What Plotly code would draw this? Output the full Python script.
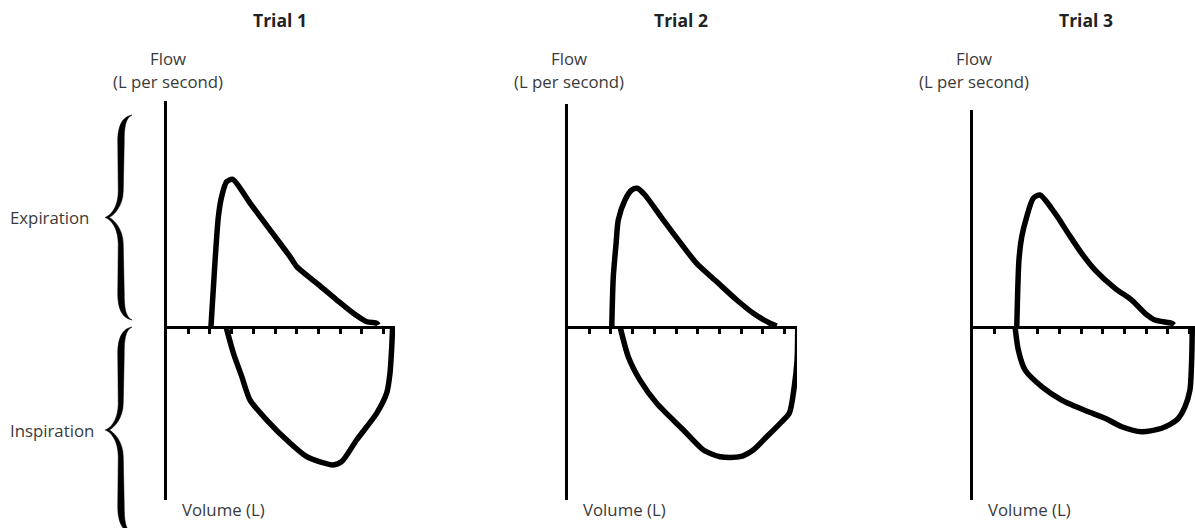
import plotly.graph_objects as go

# figure size in px
W, H = 1195, 528

trial_names = ["Trial 1", "Trial 2", "Trial 3"]
volume_ticks = [1, 2, 3, 4, 5, 6, 7, 8, 9, 10]

# Trial 1 (volume in L, flow in L per second)
t1_exp_vol = [2.05, 2.24, 2.39, 2.54, 2.77, 3.05, 3.85, 4.77, 5.69, 6.00, 6.92, 7.85, 8.61, 9.23, 9.69, 9.75]
t1_exp_flow = [0.0, 3.06, 5.06, 5.98, 6.67, 6.78, 5.69, 4.45, 3.22, 2.76, 2.00, 1.22, 0.61, 0.22, 0.15, 0.07]
t1_insp_vol = [2.74, 3.08, 3.47, 3.85, 4.62, 5.69, 6.46, 7.07, 7.67, 8.07, 8.76, 9.69, 10.15, 10.30, 10.38, 10.42]
t1_insp_flow = [0.0, -1.22, -2.31, -3.39, -4.31, -5.37, -6.00, -6.24, -6.38, -6.23, -5.23, -3.99, -3.06, -2.14, -0.93, 0.0]

# Trial 2
t2_exp_vol = [2.04, 2.11, 2.24, 2.34, 2.65, 2.96, 3.22, 3.57, 4.41, 5.34, 5.95, 6.88, 7.80, 8.56, 9.33, 9.64]
t2_exp_flow = [0.0, 2.29, 3.83, 4.91, 5.83, 6.29, 6.37, 6.06, 4.91, 3.68, 2.91, 2.06, 1.22, 0.61, 0.15, 0.02]
t2_insp_vol = [2.42, 2.80, 3.34, 4.11, 5.34, 6.26, 7.03, 7.95, 8.56, 9.18, 9.80, 10.22, 10.45, 10.58, 10.61]
t2_insp_flow = [0.0, -1.39, -2.47, -3.54, -4.77, -5.69, -6.00, -6.00, -5.69, -5.08, -4.46, -4.00, -2.77, -1.54, 0.0]

# Trial 3
t3_exp_vol = [2.04, 2.08, 2.14, 2.27, 2.50, 2.80, 3.11, 3.80, 4.41, 5.03, 5.65, 6.57, 7.34, 7.95, 8.41, 9.18, 9.29]
t3_exp_flow = [0.0, 1.53, 3.06, 4.14, 5.06, 5.91, 6.06, 5.22, 4.29, 3.37, 2.60, 1.76, 1.22, 0.61, 0.30, 0.15, 0.07]
t3_insp_vol = [1.96, 2.11, 2.42, 3.19, 4.11, 5.34, 6.11, 6.88, 7.80, 8.72, 9.41, 9.79, 10.02, 10.10, 10.13]
t3_insp_flow = [0.0, -1.08, -2.00, -2.77, -3.39, -3.93, -4.23, -4.62, -4.85, -4.69, -4.31, -3.70, -2.93, -1.54, 0.0]

loops = [
    (t1_exp_vol, t1_exp_flow, t1_insp_vol, t1_insp_flow),
    (t2_exp_vol, t2_exp_flow, t2_insp_vol, t2_insp_flow),
    (t3_exp_vol, t3_exp_flow, t3_insp_vol, t3_insp_flow),
]

# layout of the panels (px)
PX_PER_L = 21.7
panel_left = [166.5, 567.5, 972.5]
panel_right = [395, 797, 1195]
panel_top = [101, 104, 110]
AXIS_ROW = 326.5
PANEL_BOTTOM = 500

TEXT = "#3a3a3a"
FONT = "Open Sans"


def px(x):
    return x / W


def py(y):
    return 1 - y / H


def label(text, x, y, size=16.8, color=TEXT, xanchor="center"):
    fig.add_annotation(text=text, x=px(x), y=py(y), xref="paper", yref="paper",
                       xanchor=xanchor, yanchor="middle", showarrow=False,
                       font=dict(family=FONT, size=size, color=color))


def brace_path(y0, y1, e=132, arm=121, tip=105, t=6.5):
    # curly brace opening to the right, drawn as a filled outline
    ym = (y0 + y1) / 2
    q = (y1 - y0) * 0.13
    al, ar = arm - t / 2, arm + t / 2
    pts = [
        ("M", [(e, y0)]),
        ("C", [(al + 3, y0 + 2), (al, y0 + q * 0.5), (al, y0 + q)]),
        ("L", [(al + 0.5, ym - q)]),
        ("C", [(al + 0.5, ym - q * 0.35), (tip + 5, ym - 1.5), (tip, ym)]),
        ("C", [(tip + 5, ym + 1.5), (al + 0.5, ym + q * 0.35), (al + 0.5, ym + q)]),
        ("L", [(al, y1 - q)]),
        ("C", [(al, y1 - q * 0.5), (al + 3, y1 - 2), (e, y1)]),
        ("C", [(ar + 1, y1 - 3), (ar, y1 - q * 0.5), (ar, y1 - q)]),
        ("L", [(ar - 1, ym + q)]),
        ("C", [(ar - 1, ym + q * 0.45), (tip + 9, ym + 2), (tip + 4, ym)]),
        ("C", [(tip + 9, ym - 2), (ar - 1, ym - q * 0.45), (ar - 1, ym - q)]),
        ("L", [(ar, y0 + q)]),
        ("C", [(ar, y0 + q * 0.5), (ar + 1, y0 + 3), (e, y0)]),
    ]
    out = []
    for cmd, coords in pts:
        out.append(cmd + " " + " ".join(f"{px(x):.5f},{py(y):.5f}" for x, y in coords))
    return " ".join(out) + " Z"


fig = go.Figure()

for i, (ev, ef, iv, iflow) in enumerate(loops):
    n = i + 1
    for xs, ys in ((ev, ef), (iv, iflow)):
        fig.add_trace(go.Scatter(
            x=xs, y=ys, mode="lines",
            line=dict(color="black", width=5.5, shape="spline", smoothing=0.7),
            xaxis=f"x{n}", yaxis=f"y{n}",
            showlegend=False, hoverinfo="skip",
        ))

    L, R, T = panel_left[i], panel_right[i], panel_top[i]
    fig.layout[f"xaxis{n}"] = dict(
        domain=[px(L), px(R)], range=[0, (R - L) / PX_PER_L],
        anchor="free", position=py(AXIS_ROW),
        showline=True, linecolor="black", linewidth=3,
        ticks="outside", tickvals=volume_ticks, ticklen=5, tickwidth=3,
        tickcolor="black", showticklabels=False,
        showgrid=False, zeroline=False, fixedrange=True,
    )
    fig.layout[f"yaxis{n}"] = dict(
        domain=[py(PANEL_BOTTOM), py(T)],
        range=[-(PANEL_BOTTOM - AXIS_ROW) / PX_PER_L, (AXIS_ROW - T) / PX_PER_L],
        anchor=f"x{n}", showline=True, linecolor="black", linewidth=3,
        showticklabels=False, ticks="", showgrid=False, zeroline=False,
        fixedrange=True,
    )

    label(f"<b>{trial_names[i]}</b>", L + 113, 20, size=17.5, color="#222222")
    label("Flow", L + 1, 58)
    label("(L per second)", L + 1, 82)
    label("Volume (L)", L + 13, 509, xanchor="left")

# braces and phase labels on the left
fig.add_shape(type="path", path=brace_path(115, 320), xref="paper", yref="paper",
              fillcolor="black", line=dict(width=0.5, color="black"))
fig.add_shape(type="path", path=brace_path(327, 533), xref="paper", yref="paper",
              fillcolor="black", line=dict(width=0.5, color="black"))
label("Expiration", 8, 217, xanchor="left")
label("Inspiration", 8, 430, xanchor="left")

fig.update_layout(
    width=W, height=H,
    margin=dict(l=0, r=0, t=0, b=0),
    paper_bgcolor="white", plot_bgcolor="white",
    showlegend=False,
)

fig.write_html("out.html", config={"displayModeBar": False},
               post_script="document.body.style.margin='0';")
